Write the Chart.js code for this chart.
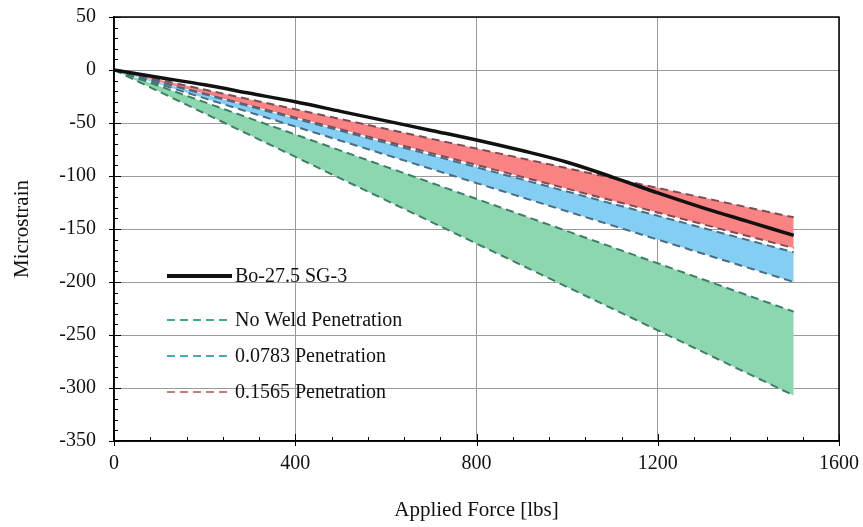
<!DOCTYPE html>
<html>
<head>
<meta charset="utf-8">
<script src="https://cdn.jsdelivr.net/npm/chart.js@4/dist/chart.umd.min.js"></script>
<style>
  html, body { margin: 0; padding: 0; background: #fff; }
  #wrap { width: 863px; height: 527px; }
</style>
</head>
<body>
<div id="wrap"><canvas id="c" width="863" height="527"></canvas></div>
<script>
// ---- data ----
const forceMeasured = [0, 100, 200, 300, 400, 500, 600, 700, 800, 900, 1000, 1100, 1200, 1300, 1400, 1500];
const strainMeasured = [0, -7, -14, -22, -30, -39, -48, -57, -66, -76, -87, -101, -116, -130, -143, -156];

const forceModel = [0, 1500];
const noWeldUpper = [0, -228];
const noWeldLower = [0, -307];
const pen0783Upper = [0, -172];
const pen0783Lower = [0, -200];
const pen1565Upper = [0, -139];
const pen1565Lower = [0, -168];

const seriesLabels = ['Bo-27.5 SG-3', 'No Weld Penetration', '0.0783 Penetration', '0.1565 Penetration'];

const xTicksMajor = [0, 400, 800, 1200, 1600];
const yTicksMajor = [50, 0, -50, -100, -150, -200, -250, -300, -350];

// ---- helpers ----
const pts = (xs, ys) => xs.map((x, i) => ({ x: x, y: ys[i] }));
const SERIF = "'Liberation Serif', 'DejaVu Serif', serif";

const fillGreen = 'rgb(140,215,176)';
const fillBlue = 'rgb(132,206,244)';
const fillRed = 'rgb(249,130,130)';
const edgeGreen = '#3e7f66';
const edgeBlue = '#4a6d84';
const edgeRed = '#7d4c56';

function dashed(label, data, color, fill, bg) {
  return {
    label: label,
    data: data,
    borderColor: color,
    borderWidth: 2,
    borderDash: [8, 5],
    pointRadius: 0,
    fill: fill,
    backgroundColor: bg || 'transparent',
    tension: 0
  };
}

const datasets = [
  {
    label: seriesLabels[0],
    data: pts(forceMeasured, strainMeasured),
    borderColor: '#111',
    borderWidth: 3.5,
    pointRadius: 0,
    fill: false,
    cubicInterpolationMode: 'monotone'
  },
  dashed(seriesLabels[1], pts(forceModel, noWeldUpper), edgeGreen, false),
  dashed(seriesLabels[1], pts(forceModel, noWeldLower), edgeGreen, '-1', fillGreen),
  dashed(seriesLabels[2], pts(forceModel, pen0783Upper), edgeBlue, false),
  dashed(seriesLabels[2], pts(forceModel, pen0783Lower), edgeBlue, '-1', fillBlue),
  dashed(seriesLabels[3], pts(forceModel, pen1565Upper), edgeRed, false),
  dashed(seriesLabels[3], pts(forceModel, pen1565Lower), edgeRed, '-1', fillRed)
];

// ---- plugins: frame, minor ticks, inner legend ----
const framePlugin = {
  id: 'frame',
  afterDatasetsDraw(chart) {
    const { ctx, chartArea: a, scales } = chart;
    const xs = scales.x, ys = scales.y;
    ctx.save();
    ctx.strokeStyle = '#000';
    ctx.lineWidth = 1.5;
    ctx.strokeRect(a.left, a.top, a.right - a.left, a.bottom - a.top);
    ctx.lineWidth = 1;
    for (let v = xs.min; v <= xs.max + 0.001; v += 80) {
      const p = Math.round(xs.getPixelForValue(v)) + 0.5;
      const major = xTicksMajor.includes(v);
      ctx.beginPath();
      ctx.moveTo(p, a.bottom + (major ? 5 : 0));
      ctx.lineTo(p, a.bottom - (major ? 7 : 4));
      ctx.stroke();
    }
    for (let v = ys.min; v <= ys.max + 0.001; v += 10) {
      const p = Math.round(ys.getPixelForValue(v)) + 0.5;
      const major = yTicksMajor.includes(v);
      ctx.beginPath();
      ctx.moveTo(a.left - (major ? 5 : 0), p);
      ctx.lineTo(a.left + (major ? 7 : 4), p);
      ctx.stroke();
    }
    ctx.restore();
  }
};

const legendPlugin = {
  id: 'innerLegend',
  afterDraw(chart) {
    const { ctx, chartArea: a } = chart;
    const x0 = a.left + 53;
    const lineLen = 65;
    const rows = [
      { y: 276, color: '#111', width: 4, dash: [] },
      { y: 320, color: '#3fae8c', width: 2, dash: [8, 5] },
      { y: 356, color: '#4aa9b3', width: 2, dash: [8, 5] },
      { y: 392, color: '#cf7a7a', width: 2, dash: [8, 5] }
    ];
    ctx.save();
    ctx.font = '20px ' + SERIF;
    ctx.textBaseline = 'middle';
    ctx.fillStyle = '#111';
    rows.forEach((r, i) => {
      ctx.beginPath();
      ctx.setLineDash(r.dash);
      ctx.strokeStyle = r.color;
      ctx.lineWidth = r.width;
      ctx.moveTo(x0, r.y);
      ctx.lineTo(x0 + lineLen, r.y);
      ctx.stroke();
      ctx.setLineDash([]);
      ctx.fillText(seriesLabels[i], x0 + lineLen + 3, r.y + 1);
    });
    ctx.restore();
  }
};

new Chart(document.getElementById('c'), {
  type: 'line',
  data: { datasets: datasets },
  options: {
    responsive: false,
    animation: false,
    devicePixelRatio: 1,
    layout: { padding: { top: 17, right: 24, left: 0, bottom: 4 } },
    plugins: {
      legend: { display: false },
      tooltip: { enabled: false }
    },
    scales: {
      x: {
        type: 'linear',
        min: 0,
        max: 1600,
        ticks: {
          stepSize: 400,
          padding: 11,
          color: '#111',
          font: { family: SERIF, size: 20 },
          maxRotation: 0,
          callback: (v) => String(v)
        },
        grid: { color: '#9a9a9a', lineWidth: 1, drawTicks: false },
        border: { display: true, color: '#000', width: 1.5 },
        title: {
          display: true,
          text: 'Applied Force [lbs]',
          color: '#111',
          font: { family: SERIF, size: 21 },
          padding: { top: 6, bottom: 0 }
        },
        afterFit(scale) {
          scale.height = 82;
          scale.paddingLeft = 0;
          scale.paddingRight = 0;
        }
      },
      y: {
        type: 'linear',
        min: -350,
        max: 50,
        ticks: {
          stepSize: 50,
          padding: 18,
          color: '#111',
          font: { family: SERIF, size: 20 },
          callback: (v) => String(v)
        },
        grid: { color: '#9a9a9a', lineWidth: 1, drawTicks: false },
        border: { display: true, color: '#000', width: 1.5 },
        title: {
          display: true,
          text: 'Microstrain',
          color: '#111',
          font: { family: SERIF, size: 21 },
          padding: { top: 10, bottom: 4 }
        },
        afterFit(scale) {
          scale.width = 114;
          scale.paddingTop = 0;
          scale.paddingBottom = 0;
        }
      }
    }
  },
  plugins: [framePlugin, legendPlugin]
});
</script>
</body>
</html>
